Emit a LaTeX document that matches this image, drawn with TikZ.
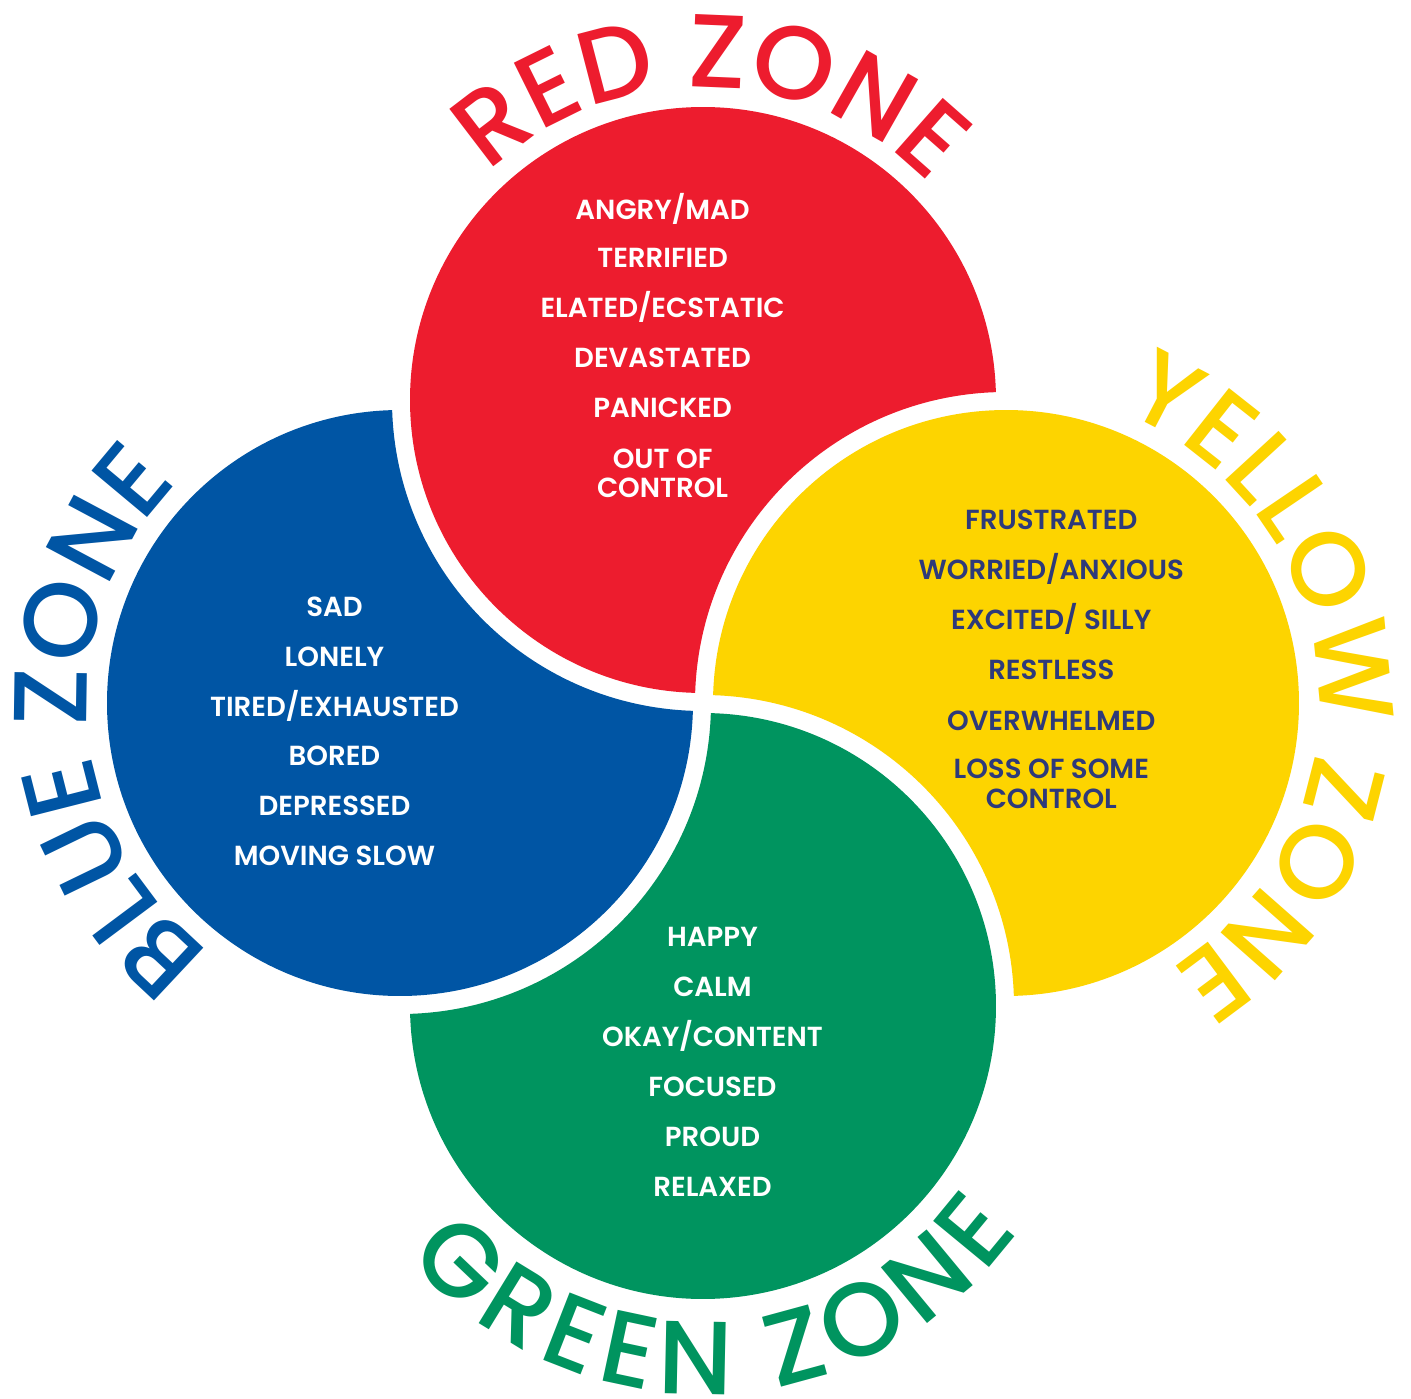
\documentclass[tikz,border=0pt]{standalone}
\usepackage{fontspec}
\usetikzlibrary{decorations.text}
\newfontfamily\zonefont{Poppins Medium}
\newfontfamily\feelfont{Poppins SemiBold}
\definecolor{zred}{HTML}{ED1C2E}
\definecolor{zyellow}{HTML}{FDD400}
\definecolor{zgreen}{HTML}{00945F}
\definecolor{zblue}{HTML}{0055A4}
\definecolor{znavy}{HTML}{2E3A7A}
\tikzset{
  feel/.style={anchor=base, inner sep=0pt, font=\feelfont\fontsize{27.6}{30}\selectfont},
  zonelabel/.style={decorate, decoration={text along path, text align=center, text={#1}}},
  fitlabel/.style={decorate, decoration={text along path, text align=fit to path, text={#1}}},
}
\newcommand\zonesize{\fontsize{104}{104}\selectfont}
\begin{document}
\begin{tikzpicture}[x=1pt,y=1pt]
% origin at the meeting point of the four petals
\fill[white] (-703,-695) rectangle (708,703);
\useasboundingbox (-703,-695) rectangle (708,703);

% each petal: a disc with a bite taken by the next disc (plus a white gap)
\foreach \ang/\col in {0/zred,-90/zyellow,-180/zgreen,-270/zblue}{
  \fill[\col, rotate=\ang] (0,303) ++(1.533:293)
    arc[start angle=1.533, end angle=268.467, radius=293]
    arc[start angle=178.139, end angle=91.861, radius=311] -- cycle;
}

% curved zone titles
\path[zonelabel={|\zonefont\zonesize\color{zred}|RED ZONE}]
  (0,303) ++(178.5:313) arc[start angle=178.5, end angle=-1.5, radius=313];
\path[zonelabel={|\zonefont\zonesize\color{zyellow}|YELLOW ZONE}]
  (303,0) ++(95:313) arc[start angle=95, end angle=-85, radius=313];
\path[fitlabel={|\zonefont\zonesize\color{zgreen}|GREEN ZONE}]
  (0,-303) ++(220.5:388) arc[start angle=220.5, end angle=324.5, radius=388];
\path[zonelabel={|\zonefont\zonesize\color{zblue}|BLUE ZONE}]
  (-303,0) ++(274:313) arc[start angle=274, end angle=94, radius=313];

% red zone feelings
\begin{scope}[every node/.style={feel, text=white}]
  \node (r1) at (-40.4,483.7) {ANGRY/MAD};
  \node (r2) at (-40.4,435.7) {TERRIFIED};
  \node (r3) at (-40.4,385.3) {ELATED/ECSTATIC};
  \node (r4) at (-40.4,335.3) {DEVASTATED};
  \node (r5) at (-40.4,285.3) {PANICKED};
  \node (r6) at (-40.4,234.7) {OUT OF};
  \node (r7) at (-40.4,205.7) {CONTROL};
\end{scope}

% yellow zone feelings
\begin{scope}[every node/.style={feel, text=znavy}]
  \node (y1) at (348.3,174) {FRUSTRATED};
  \node (y2) at (348.3,124) {WORRIED/ANXIOUS};
  \node (y3) at (348.3,74) {EXCITED/ SILLY};
  \node (y4) at (348.3,24) {RESTLESS};
  \node (y5) at (348.3,-27) {OVERWHELMED};
  \node (y6) at (348.3,-75.7) {LOSS OF SOME};
  \node (y7) at (348.3,-105) {CONTROL};
\end{scope}

% blue zone feelings
\begin{scope}[every node/.style={feel, text=white}]
  \node (b1) at (-368.5,86.3) {SAD};
  \node (b2) at (-368.5,36.3) {LONELY};
  \node (b3) at (-368.5,-13.7) {TIRED/EXHAUSTED};
  \node (b4) at (-368.5,-62.7) {BORED};
  \node (b5) at (-368.5,-112.7) {DEPRESSED};
  \node (b6) at (-368.5,-162.7) {MOVING SLOW};
\end{scope}

% green zone feelings
\begin{scope}[every node/.style={feel, text=white}]
  \node (g1) at (9.5,-243.7) {HAPPY};
  \node (g2) at (9.5,-293.7) {CALM};
  \node (g3) at (9.5,-343.7) {OKAY/CONTENT};
  \node (g4) at (9.5,-393.7) {FOCUSED};
  \node (g5) at (9.5,-443.7) {PROUD};
  \node (g6) at (9.5,-493.7) {RELAXED};
\end{scope}
\end{tikzpicture}
\end{document}
